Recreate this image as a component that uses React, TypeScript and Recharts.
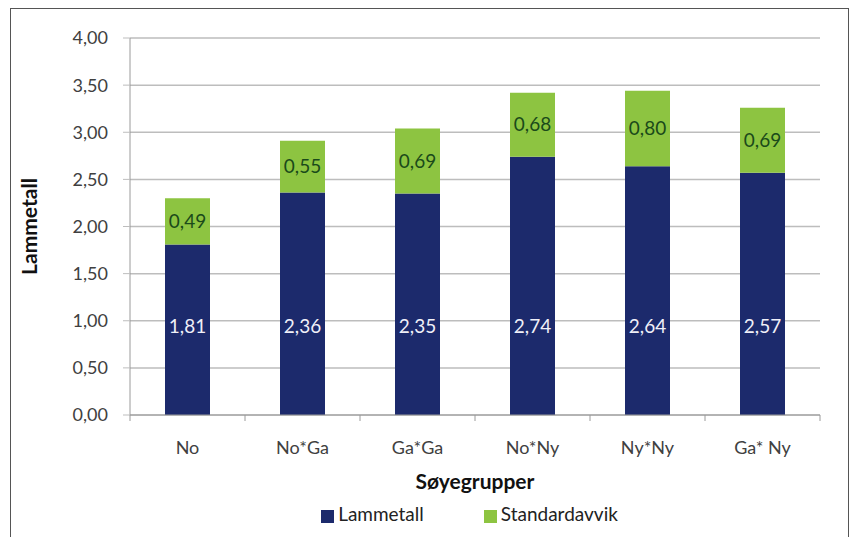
import React from 'react';
import { BarChart, Bar, XAxis, YAxis, CartesianGrid, Legend, LabelList, Label } from 'recharts';

const groups = ['No', 'No*Ga', 'Ga*Ga', 'No*Ny', 'Ny*Ny', 'Ga* Ny'];
const lammetall = [1.81, 2.36, 2.35, 2.74, 2.64, 2.57];
const standardavvik = [0.49, 0.55, 0.69, 0.68, 0.8, 0.69];
const yTicks = [0, 0.5, 1, 1.5, 2, 2.5, 3, 3.5, 4];

const NAVY = '#1c2a6c';
const GREEN = '#8dc441';
const FONT = 'Lato, "Open Sans", sans-serif';

const data = groups.map((g, i) => ({
  name: g,
  lammetall: lammetall[i],
  standardavvik: standardavvik[i],
}));

const fmt = (v: number) => v.toFixed(2).replace('.', ',');

// Excel draws category ticks between bars, so put them at the band edges
const CatTick = (props: any) => {
  const { x, y, payload, index, visibleTicksCount } = props;
  const half = payload.offset || 0;
  return (
    <g>
      <line x1={x - half} x2={x - half} y1={y - 8} y2={y - 2} stroke="#9a9a9a" />
      {index === visibleTicksCount - 1 && (
        <line x1={x + half} x2={x + half} y1={y - 8} y2={y - 2} stroke="#9a9a9a" />
      )}
      <text x={x} y={y + 31} textAnchor="middle" fill="#404040" fontSize={18} fontFamily={FONT}>
        {payload.value}
      </text>
    </g>
  );
};

const App = () => {
  return (
    <div style={{ position: 'absolute', left: 0, top: 0, width: 853, height: 537, background: '#fff' }}>
      <div
        style={{
          position: 'absolute',
          left: 10,
          top: 8,
          width: 839,
          height: 540,
          border: '1.5px solid #555',
          boxSizing: 'border-box',
        }}
      />
      <BarChart
        width={853}
        height={537}
        data={data}
        margin={{ top: 38, right: 33, bottom: 42, left: 20 }}
        barSize={45}
        style={{ fontFamily: FONT }}
      >
        <CartesianGrid vertical={false} stroke="#bdbdbd" strokeWidth={1.5} />
        <XAxis
          dataKey="name"
          height={80}
          axisLine={{ stroke: '#9a9a9a' }}
          tickLine={false}
          tick={<CatTick />}
          interval={0}
        >
          <Label
            value="Søyegrupper"
            position="insideBottom"
            offset={6}
            fill="#111"
            fontSize={21}
            fontWeight="bold"
            fontFamily={FONT}
          />
        </XAxis>
        <YAxis
          width={110}
          domain={[0, 4]}
          ticks={yTicks}
          tickFormatter={fmt}
          axisLine={{ stroke: '#9a9a9a' }}
          tickLine={{ stroke: '#bdbdbd' }}
          tickSize={7}
          tickMargin={15}
          tick={{ fill: '#404040', fontSize: 18, fontFamily: FONT }}
        >
          <Label
            value="Lammetall"
            position="center"
            angle={-90}
            dx={-45}
            fill="#111"
            fontSize={21}
            fontWeight="bold"
            fontFamily={FONT}
          />
        </YAxis>
        <Legend
          layout="horizontal"
          align="center"
          verticalAlign="middle"
          iconType="square"
          iconSize={13}
          wrapperStyle={{ top: 502, left: 48, width: 853, fontSize: 19, fontFamily: FONT }}
          formatter={(value: string, _e: any, i: number) => (
            <span style={{ color: '#222', marginRight: i === 0 ? 50 : 0 }}>{value}</span>
          )}
        />
        <Bar dataKey="lammetall" name="Lammetall" stackId="a" fill={NAVY} isAnimationActive={false}>
          <LabelList
            dataKey="lammetall"
            position="insideBottom"
            offset={82}
            formatter={fmt}
            fill="#f0f0f8"
            fontSize={19}
            fontFamily={FONT}
          />
        </Bar>
        <Bar dataKey="standardavvik" name="Standardavvik" stackId="a" fill={GREEN} isAnimationActive={false}>
          <LabelList
            dataKey="standardavvik"
            position="center"
            formatter={fmt}
            fill="#1a4a1a"
            fontSize={19}
            fontFamily={FONT}
          />
        </Bar>
      </BarChart>
    </div>
  );
};

export default App;
